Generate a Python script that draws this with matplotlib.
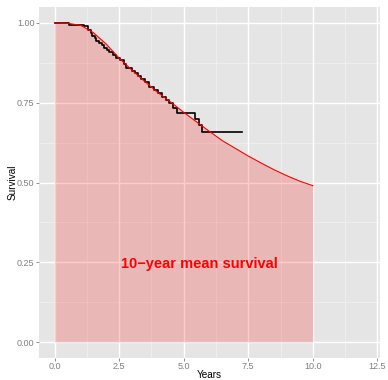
import numpy as np
import matplotlib.pyplot as plt

# Kaplan-Meier estimate (step function)
km_time = [0.0, 0.58, 1.16, 1.30, 1.40, 1.47, 1.55, 1.62, 1.72, 1.82, 1.92, 2.02,
           2.12, 2.25, 2.38, 2.55, 2.70, 2.78, 3.00, 3.12, 3.25, 3.36, 3.52, 3.67,
           3.86, 4.00, 4.17, 4.32, 4.45, 4.60, 4.75, 5.44, 5.60, 5.72]
km_surv = [1.000, 0.995, 0.989, 0.978, 0.970, 0.960, 0.953, 0.945, 0.937, 0.930, 0.922, 0.915,
           0.908, 0.900, 0.890, 0.884, 0.872, 0.860, 0.850, 0.843, 0.835, 0.825, 0.815, 0.800,
           0.790, 0.780, 0.768, 0.760, 0.748, 0.734, 0.718, 0.700, 0.680, 0.657]
km_end = 7.27

# Fitted parametric survival curve
fit_time = [0.0, 0.5, 1.0, 1.5, 2.0, 2.5, 3.0, 3.5, 4.0, 4.5, 5.0,
            5.5, 6.0, 6.5, 7.0, 7.5, 8.0, 8.5, 9.0, 9.5, 10.0]
fit_surv = [1.000, 0.999, 0.993, 0.970, 0.934, 0.890, 0.852, 0.816, 0.782, 0.752, 0.720,
            0.690, 0.660, 0.631, 0.607, 0.583, 0.561, 0.540, 0.521, 0.504, 0.490]

plt.rcParams['font.family'] = ['Liberation Sans', 'DejaVu Sans']

fig = plt.figure(figsize=(3.88, 3.80), dpi=100)
ax = fig.add_axes([39 / 388, 22 / 380, 341 / 388, 351 / 380])
ax.set_facecolor('#E5E5E5')

ax.set_xlim(-0.6, 12.6)
ax.set_ylim(-0.05, 1.05)

major_x = [0, 2.5, 5, 7.5, 10, 12.5]
major_y = [0, 0.25, 0.5, 0.75, 1.0]
for v in [1.25, 3.75, 6.25, 8.75, 11.25]:
    ax.axvline(v, color='#F2F2F2', lw=0.5, zorder=0)
for v in [0.125, 0.375, 0.625, 0.875]:
    ax.axhline(v, color='#F2F2F2', lw=0.5, zorder=0)
for v in major_x:
    ax.axvline(v, color='white', lw=1.0, zorder=0)
for v in major_y:
    ax.axhline(v, color='white', lw=1.0, zorder=0)

# shaded area under the fitted curve
ax.fill_between(fit_time, 0, fit_surv, color='red', alpha=0.2, lw=0, zorder=1)

# KM steps
xs = km_time + [km_end]
ys = km_surv + [km_surv[-1]]
ax.step(xs, ys, where='post', color='black', lw=1.2, zorder=2)

ax.plot(fit_time, fit_surv, color='red', lw=0.8, zorder=3)

ax.text(5.6, 0.245, '10\u2212year mean survival', color='red', fontsize=10.5,
        fontweight='bold', ha='center', va='center', zorder=4)

ax.set_xticks(major_x)
ax.set_xticklabels(['0.0', '2.5', '5.0', '7.5', '10.0', '12.5'])
ax.set_yticks(major_y)
ax.set_yticklabels(['0.00', '0.25', '0.50', '0.75', '1.00'])
ax.tick_params(colors='#7F7F7F', labelsize=6.5, length=2.2, width=0.6, pad=1)
for s in ax.spines.values():
    s.set_visible(False)

ax.set_xlabel('Years', fontsize=7.2)
ax.set_ylabel('Survival', fontsize=7.2)
ax.xaxis.set_label_coords(0.5, -17.5 / 351)
ax.yaxis.set_label_coords(-26 / 341, 0.5)
ax.xaxis.label.set_va('center')
ax.yaxis.label.set_va('center')

fig.savefig('out.png', dpi=100)
